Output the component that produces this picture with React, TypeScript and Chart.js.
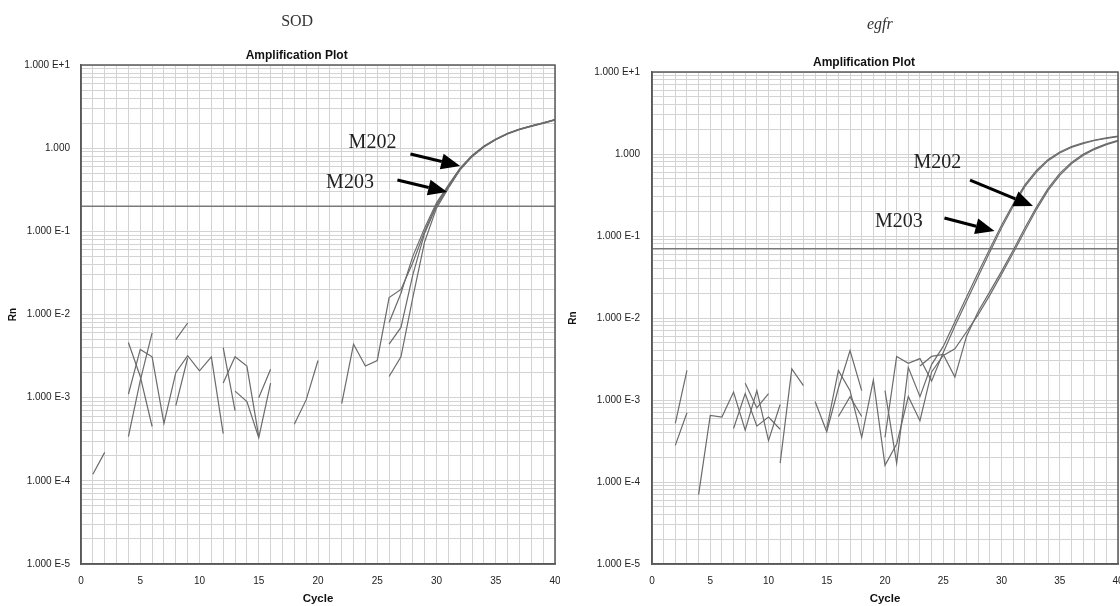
import React, { useEffect, useRef } from 'react';
import { Chart, registerables } from 'chart.js';

Chart.register(...registerables);
Chart.defaults.font.family = '"Liberation Sans", Arial, sans-serif';

// ---- categories / ticks ----
const cycles = [
  0, 1, 2, 3, 4, 5, 6, 7, 8, 9, 10, 11, 12, 13, 14, 15, 16, 17, 18, 19, 20,
  21, 22, 23, 24, 25, 26, 27, 28, 29, 30, 31, 32, 33, 34, 35, 36, 37, 38, 39, 40,
];
const yDecades = [1e-5, 1e-4, 1e-3, 1e-2, 1e-1, 1, 10];
const yMinorSteps = [1, 2, 3, 4, 5, 6, 7, 8, 9];
const xLabelStep = 5;

// ---- SOD (Rn per cycle) ----
const sodWell1 = [
  null, 1.2e-4, 2.2e-4, null, 3.4e-4, 1.6e-3, 6.0e-3, null, 5.0e-3, 7.9e-3,
  null, null, 4.0e-3, 7.0e-4, null, 1.0e-3, 2.2e-3, null, 4.8e-4, 9.4e-4,
  2.8e-3, null, 8.5e-4, 4.4e-3, 2.4e-3, 2.8e-3, 1.6e-2, 2.0e-2, 4.2e-2, 0.1,
  0.21, 0.35, 0.57, 0.81, 1.05, 1.28, 1.5, 1.69, 1.85, 2.01, 2.2,
];
const sodWell2 = [
  null, null, null, null, 4.6e-3, 1.8e-3, 4.5e-4, null, 8.0e-4, 3.0e-3,
  null, null, 1.5e-3, 3.1e-3, 2.4e-3, 3.4e-4, null, null, null, null,
  null, null, null, null, null, null, 1.8e-3, 3.1e-3, 1.6e-2, 0.075,
  0.19, 0.33, 0.55, 0.79, 1.03, 1.26, 1.48, 1.67, 1.83, 1.99, 2.17,
];
const sodWell3 = [
  null, null, null, null, 1.1e-3, 3.8e-3, 3.1e-3, 4.9e-4, 2.0e-3, 3.2e-3,
  2.1e-3, 3.1e-3, 3.7e-4, null, null, null, null, null, null, null,
  null, null, null, null, null, null, 4.4e-3, 7.0e-3, 3.0e-2, 0.095,
  0.2, 0.34, 0.56, 0.8, 1.04, 1.27, 1.49, 1.68, 1.84, 2.0, 2.19,
];
const sodWell4 = [
  null, null, null, null, null, null, null, null, null, null,
  null, null, null, 1.2e-3, 9.0e-4, 3.3e-4, 1.5e-3, null, null, null,
  null, null, null, null, null, null, 8.0e-3, 1.8e-2, 5.0e-2, 0.11,
  0.22, 0.36, 0.58, 0.82, 1.06, 1.29, 1.51, 1.7, 1.86, 2.02, 2.21,
];
const sodThreshold = 0.2;

// ---- egfr (Rn per cycle) ----
const egfrWell1 = [
  null, null, null, null, 7e-5, 6.5e-4, 6.2e-4, 1.25e-3, 4.3e-4, 1.3e-3,
  3.2e-4, 8.8e-4, null, null, 9.6e-4, 4.1e-4, 1.4e-3, 4.0e-3, 1.3e-3, null,
  3.5e-4, 3.4e-3, 2.8e-3, 3.2e-3, 1.7e-3, 3.8e-3, 8.0e-3, 0.016, 0.032, 0.064,
  0.125, 0.23, 0.4, 0.6, 0.83, 1.03, 1.2, 1.34, 1.46, 1.55, 1.63,
];
const egfrWell2 = [
  null, null, 5.2e-4, 2.3e-3, null, null, null, 4.5e-4, 1.2e-3, 4.8e-4,
  6.2e-4, 4.4e-4, null, null, null, 4.5e-4, 2.3e-3, 1.3e-3, 3.5e-4, 1.75e-3,
  1.6e-4, 2.9e-4, 1.1e-3, 5.6e-4, 2.2e-3, 3.5e-3, 4.2e-3, 6.8e-3, 0.011, 0.019,
  0.034, 0.062, 0.115, 0.21, 0.36, 0.55, 0.76, 0.96, 1.14, 1.3, 1.44,
];
const egfrWell3 = [
  null, null, 2.8e-4, 7.0e-4, null, null, null, null, null, null,
  null, 1.7e-4, 2.4e-3, 1.5e-3, null, null, 6.3e-4, 1.1e-3, 6.3e-4, null,
  1.3e-3, 1.7e-4, 2.5e-3, 1.1e-3, 2.7e-3, 4.5e-3, 9.0e-3, 0.018, 0.036, 0.07,
  0.135, 0.245, 0.42, 0.63, 0.86, 1.06, 1.23, 1.37, 1.48, 1.57, 1.65,
];
const egfrWell4 = [
  null, null, null, null, null, null, null, null, 1.6e-3, 8.0e-4,
  1.2e-3, null, null, null, null, null, null, null, null, null,
  null, null, null, 2.6e-3, 3.4e-3, 3.6e-3, 1.9e-3, 6.0e-3, 0.012, 0.021,
  0.037, 0.067, 0.125, 0.225, 0.38, 0.58, 0.79, 0.99, 1.17, 1.33, 1.47,
];
const egfrThreshold = 0.07;

// ---- annotations (data coordinates: [cycle, Rn]) ----
const sodArrows = [
  { label: 'M202', labelAt: [24.6, 1.15], from: [27.8, 0.85], to: [32.0, 0.61] },
  { label: 'M203', labelAt: [22.7, 0.38], from: [26.7, 0.415], to: [30.9, 0.298] },
];
const egfrArrows = [
  { label: 'M202', labelAt: [24.5, 0.78], from: [27.3, 0.48], to: [32.7, 0.232] },
  { label: 'M203', labelAt: [21.2, 0.148], from: [25.1, 0.166], to: [29.4, 0.115] },
];

const yGridValues: number[] = [];
yDecades.forEach((d, i) => {
  if (i === yDecades.length - 1) yGridValues.push(d);
  else yMinorSteps.forEach((m) => yGridValues.push(m * d));
});

function formatRn(v: number) {
  const e = Math.log10(v);
  const r = Math.round(e);
  if (Math.abs(e - r) > 1e-6) return '';
  if (r === 0) return '1.000';
  return '1.000 E' + (r > 0 ? '+' : '') + r;
}

type Panel = {
  heading: string;
  headingFont: string;
  headingFrac: number;
  headingY: number;
  series: (number | null)[][];
  threshold: number;
  arrows: { label: string; labelAt: number[]; from: number[]; to: number[] }[];
  padTop: number;
  padRight: number;
  yWidth: number;
  yTickPad: number;
};

function makeDecor(panel: Panel) {
  return {
    id: 'decor',
    afterDatasetsDraw(chart: any) {
      const { ctx, chartArea: a, scales } = chart;
      const x = scales.x;
      const y = scales.y;
      const w = a.right - a.left;
      ctx.save();
      ctx.strokeStyle = '#5a5a5a';
      ctx.lineWidth = 1.5;
      ctx.strokeRect(a.left, a.top, w, a.bottom - a.top);

      ctx.textAlign = 'center';
      ctx.textBaseline = 'middle';
      ctx.fillStyle = '#333';
      ctx.font = panel.headingFont;
      ctx.fillText(panel.heading, a.left + panel.headingFrac * w, panel.headingY);

      ctx.fillStyle = '#111';
      ctx.font = 'bold 12px "Liberation Sans", Arial, sans-serif';
      ctx.fillText('Amplification Plot', a.left + 0.455 * w, a.top - 9);

      for (const ar of panel.arrows) {
        const lx = x.getPixelForValue(ar.labelAt[0]);
        const ly = y.getPixelForValue(ar.labelAt[1]);
        ctx.fillStyle = '#222';
        ctx.font = '20px "Liberation Serif", "Times New Roman", serif';
        ctx.fillText(ar.label, lx, ly);

        const x0 = x.getPixelForValue(ar.from[0]);
        const y0 = y.getPixelForValue(ar.from[1]);
        const x1 = x.getPixelForValue(ar.to[0]);
        const y1 = y.getPixelForValue(ar.to[1]);
        const ang = Math.atan2(y1 - y0, x1 - x0);
        const headLen = 19;
        const headW = 8;
        const bx = x1 - headLen * Math.cos(ang);
        const by = y1 - headLen * Math.sin(ang);
        ctx.strokeStyle = '#000';
        ctx.lineWidth = 3;
        ctx.beginPath();
        ctx.moveTo(x0, y0);
        ctx.lineTo(bx, by);
        ctx.stroke();
        ctx.fillStyle = '#000';
        ctx.beginPath();
        ctx.moveTo(x1, y1);
        ctx.lineTo(bx + headW * Math.sin(ang), by - headW * Math.cos(ang));
        ctx.lineTo(bx - headW * Math.sin(ang), by + headW * Math.cos(ang));
        ctx.closePath();
        ctx.fill();
      }
      ctx.restore();
    },
  };
}

function buildConfig(panel: Panel): any {
  const datasets: any[] = panel.series.map((vals) => ({
    data: cycles.map((c, i) => ({ x: c, y: vals[i] })),
    borderColor: '#6b6b6b',
    borderWidth: 1.2,
    pointRadius: 0,
    spanGaps: false,
    tension: 0,
    fill: false,
  }));
  datasets.push({
    data: [
      { x: cycles[0], y: panel.threshold },
      { x: cycles[cycles.length - 1], y: panel.threshold },
    ],
    borderColor: '#7a7a7a',
    borderWidth: 1.6,
    pointRadius: 0,
    fill: false,
  });
  return {
    type: 'line',
    data: { datasets },
    plugins: [makeDecor(panel)],
    options: {
      animation: false,
      responsive: false,
      events: [],
      layout: { padding: { top: panel.padTop, right: panel.padRight, bottom: 0, left: 0 } },
      plugins: {
        legend: { display: false },
        tooltip: { enabled: false },
        title: { display: false },
      },
      scales: {
        x: {
          type: 'linear',
          min: cycles[0],
          max: cycles[cycles.length - 1],
          afterBuildTicks: (s: any) => {
            s.ticks = cycles.map((v) => ({ value: v }));
          },
          afterFit: (s: any) => {
            s.height = 42;
            s.paddingLeft = 0;
            s.paddingRight = 0;
          },
          ticks: {
            autoSkip: false,
            maxRotation: 0,
            padding: 11,
            color: '#222',
            font: { size: 10 },
            callback: (v: number) => (v % xLabelStep === 0 ? String(v) : ''),
          },
          grid: { color: '#d3d3d3', lineWidth: 1, drawTicks: false },
          border: { color: '#555', width: 1.5 },
          title: {
            display: true,
            text: 'Cycle',
            color: '#111',
            font: { size: 11.5, weight: 'bold' },
            padding: { top: 0, bottom: 0 },
          },
        },
        y: {
          type: 'logarithmic',
          min: yDecades[0],
          max: yDecades[yDecades.length - 1],
          afterBuildTicks: (s: any) => {
            s.ticks = yGridValues.map((v) => ({ value: v }));
          },
          afterFit: (s: any) => {
            s.width = panel.yWidth;
            s.paddingTop = 0;
            s.paddingBottom = 0;
          },
          ticks: {
            autoSkip: false,
            padding: panel.yTickPad,
            color: '#222',
            font: { size: 10 },
            callback: (v: number) => formatRn(v),
          },
          grid: { color: '#d3d3d3', lineWidth: 1, drawTicks: false },
          border: { color: '#555', width: 1.5 },
          title: {
            display: true,
            text: 'Rn',
            color: '#111',
            font: { size: 10, weight: 'bold' },
            padding: { top: 7, bottom: 0 },
          },
        },
      },
    },
  };
}

const sodPanel: Panel = {
  heading: 'SOD',
  headingFont: '16px "Liberation Serif", "Times New Roman", serif',
  headingFrac: 0.456,
  headingY: 22,
  series: [sodWell1, sodWell2, sodWell3, sodWell4],
  threshold: sodThreshold,
  arrows: sodArrows,
  padTop: 65,
  padRight: 5,
  yWidth: 81,
  yTickPad: 11,
};

const egfrPanel: Panel = {
  heading: 'egfr',
  headingFont: 'italic 16px "Liberation Serif", "Times New Roman", serif',
  headingFrac: 0.489,
  headingY: 25,
  series: [egfrWell1, egfrWell2, egfrWell3, egfrWell4],
  threshold: egfrThreshold,
  arrows: egfrArrows,
  padTop: 72,
  padRight: 2,
  yWidth: 92,
  yTickPad: 12,
};

function PanelChart({ panel, left }: { panel: Panel; left: number }) {
  const ref = useRef<HTMLCanvasElement | null>(null);
  useEffect(() => {
    if (!ref.current) return;
    const chart = new Chart(ref.current, buildConfig(panel));
    return () => chart.destroy();
  }, [panel]);
  return (
    <canvas
      ref={ref}
      width={560}
      height={606}
      style={{ position: 'absolute', left, top: 0, width: 560, height: 606, display: 'block' }}
    />
  );
}

export default function App() {
  return (
    <div
      style={{
        position: 'fixed',
        left: 0,
        top: 0,
        width: 1120,
        height: 606,
        background: '#fff',
        overflow: 'hidden',
      }}
    >
      <PanelChart panel={sodPanel} left={0} />
      <PanelChart panel={egfrPanel} left={560} />
    </div>
  );
}
